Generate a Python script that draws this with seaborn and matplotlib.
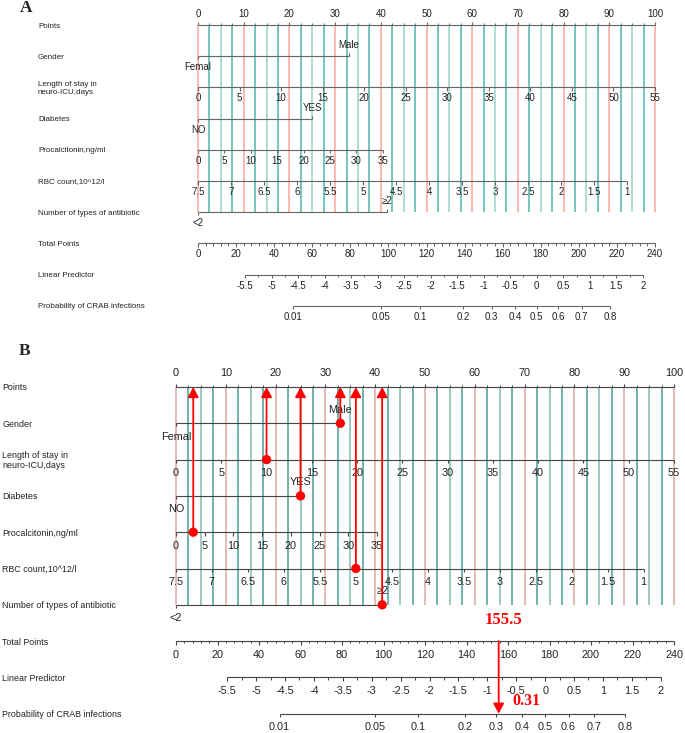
import numpy as np
import matplotlib
matplotlib.use("Agg")
import matplotlib.pyplot as plt
import seaborn as sns

# ---- nomogram scales ----
points_ticks = [0, 10, 20, 30, 40, 50, 60, 70, 80, 90, 100]
points_grid_step = 2.5

gender_levels = ["Femal", "Male"]
gender_points = [0, 33]

los_ticks = [0, 5, 10, 15, 20, 25, 30, 35, 40, 45, 50, 55]
los_range = [0, 55]
los_points = [0, 100]

diabetes_levels = ["NO", "YES"]
diabetes_points = [0, 25]

pct_ticks = [0, 5, 10, 15, 20, 25, 30, 35]
pct_range = [0, 35]
pct_points = [0, 40.4]

rbc_ticks = [7.5, 7, 6.5, 6, 5.5, 5, 4.5, 4, 3.5, 3, 2.5, 2, 1.5, 1]
rbc_range = [7.5, 1]
rbc_points = [0, 93.9]

abx_levels = ["<2", "≥2"]
abx_points = [0, 41.4]

total_ticks = [0, 20, 40, 60, 80, 100, 120, 140, 160, 180, 200, 220, 240]
total_max = 240

lp_ticks = [-5.5, -5, -4.5, -4, -3.5, -3, -2.5, -2, -1.5, -1, -0.5, 0, 0.5, 1, 1.5, 2]
lp_range = [-5.5, 2]
lp_total = [24.7, 233.6]

prob_ticks = [0.01, 0.05, 0.1, 0.2, 0.3, 0.4, 0.5, 0.6, 0.7, 0.8]

row_names = ["Points", "Gender", "Length of stay in\nneuro-ICU,days", "Diabetes",
             "Procalcitonin,ng/ml", "RBC count,10^12/l", "Number of types of antibiotic",
             "Total Points", "Linear Predictor", "Probability of CRAB infections"]

# example patient shown in panel B
patient_gender = "Male"
patient_los = 10
patient_diabetes = "YES"
patient_pct = 3
patient_rbc = 5.0
patient_abx = "≥2"
patient_total = 155.5
patient_prob = 0.31


def lin(v, rng, pts):
    return pts[0] + (np.asarray(v, float) - rng[0]) / (rng[1] - rng[0]) * (pts[1] - pts[0])


def total_to_x(tp):
    return np.asarray(tp, float) * 100.0 / total_max


def lp_to_x(lp):
    return total_to_x(lin(lp, lp_range, lp_total))


def prob_to_x(p):
    p = np.asarray(p, float)
    return lp_to_x(np.log(p / (1 - p)))


def fmt(v):
    return f"{v:g}"


PANELS = {
    "A": dict(px0=198, ppp=4.57, y0=25, dy=31.2, lab_px=38, lab_fs=5.8, tick_fs=7,
              off=11, letter=(26, 8), red="#f6a69c", teal="#4fb5aa", teal2="#93d3cb",
              axc="#666666"),
    "B": dict(px0=176, ppp=4.98, y0=387, dy=36.3, lab_px=2, lab_fs=6.4, tick_fs=7.8,
              off=13.5, letter=(25, 351), red="#dcaaa1", teal="#4c9d94", teal2="#80bab3",
              axc="#444444"),
}


def draw_scale(ax, cfg, y, xs, labels, minor=None, up=False, label_above=False, major_len=3.5):
    ax.hlines(y, min(xs), max(xs), color=cfg["axc"], lw=0.8, zorder=3)
    sgn = -1 if up else 1
    ax.vlines(xs, y, y + sgn * major_len, color=cfg["axc"], lw=0.8, zorder=3)
    if minor is not None:
        ax.vlines(minor, y, y + sgn * 2.2, color=cfg["axc"], lw=0.7, zorder=3)
    ly = y - cfg["off"] if label_above else y + cfg["off"]
    for x, t in zip(xs, labels):
        ax.text(x, ly, t, ha="center", va="center", fontsize=cfg["tick_fs"], color="#222222", zorder=4)


def draw_cat(ax, cfg, y, levels, pts):
    ax.hlines(y, pts[0], pts[1], color=cfg["axc"], lw=0.8, zorder=3)
    ax.vlines(pts[0], y, y + 3, color=cfg["axc"], lw=0.8, zorder=3)
    ax.vlines(pts[1], y, y - 3, color=cfg["axc"], lw=0.8, zorder=3)
    ax.text(pts[0], y + cfg["off"], levels[0], ha="center", va="center",
            fontsize=cfg["tick_fs"], color="#222222", zorder=4)
    ax.text(pts[1], y - cfg["off"], levels[1], ha="center", va="center",
            fontsize=cfg["tick_fs"], color="#222222", zorder=4)


def draw_panel(ax, name):
    cfg = PANELS[name]
    ax.set_xlim(-cfg["px0"] / cfg["ppp"], (685 - cfg["px0"]) / cfg["ppp"])
    ax.set_ylim(733, 0)
    ax.axis("off")
    rows = [cfg["y0"] + i * cfg["dy"] for i in range(10)]

    # vertical reference grid
    grid = np.arange(0, 100.01, points_grid_step)
    for g in grid:
        if g % 10 == 0:
            c = cfg["red"]
        elif g % 5 == 0:
            c = cfg["teal2"]
        else:
            c = cfg["teal"]
        ax.vlines(g, rows[0], rows[6], color=c, lw=1.1, zorder=1)

    lab_x = (cfg["lab_px"] - cfg["px0"]) / cfg["ppp"]
    for y, t in zip(rows, row_names):
        ax.text(lab_x, y + 1, t, ha="left", va="center", fontsize=cfg["lab_fs"],
                color="#222222", linespacing=1.05)
    lx, ly = cfg["letter"]
    ax.text((lx - cfg["px0"]) / cfg["ppp"], ly, name, ha="center", va="center",
            fontsize=12.5, fontweight="bold", family="Liberation Serif")

    draw_scale(ax, cfg, rows[0], points_ticks, [fmt(v) for v in points_ticks],
               minor=grid, up=True, label_above=True)
    draw_cat(ax, cfg, rows[1], gender_levels, gender_points)
    draw_scale(ax, cfg, rows[2], lin(los_ticks, los_range, los_points), [fmt(v) for v in los_ticks])
    draw_cat(ax, cfg, rows[3], diabetes_levels, diabetes_points)
    draw_scale(ax, cfg, rows[4], lin(pct_ticks, pct_range, pct_points), [fmt(v) for v in pct_ticks])
    draw_scale(ax, cfg, rows[5], lin(rbc_ticks, rbc_range, rbc_points), [fmt(v) for v in rbc_ticks])
    draw_cat(ax, cfg, rows[6], abx_levels, abx_points)
    draw_scale(ax, cfg, rows[7], total_to_x(total_ticks), [fmt(v) for v in total_ticks],
               minor=total_to_x(np.arange(0, total_max + 1, 4)))
    draw_scale(ax, cfg, rows[8], lp_to_x(lp_ticks), [fmt(v) for v in lp_ticks],
               minor=lp_to_x(np.arange(lp_range[0], lp_range[1] + 0.01, 0.25)))
    draw_scale(ax, cfg, rows[9], prob_to_x(prob_ticks), [fmt(v) for v in prob_ticks])
    return rows


sns.set_theme(style="white")
plt.rcParams["font.family"] = ["Liberation Sans", "DejaVu Sans"]

fig = plt.figure(figsize=(6.85, 7.33), dpi=100)
axA = fig.add_axes([0, 0, 1, 1])
axB = fig.add_axes([0, 0, 1, 1])
axB.patch.set_alpha(0)

draw_panel(axA, "A")
rowsB = draw_panel(axB, "B")

# patient marks on panel B
sel_x = [gender_points[gender_levels.index(patient_gender)],
         float(lin(patient_los, los_range, los_points)),
         diabetes_points[diabetes_levels.index(patient_diabetes)],
         float(lin(patient_pct, pct_range, pct_points)),
         float(lin(patient_rbc, rbc_range, rbc_points)),
         abx_points[abx_levels.index(patient_abx)]]
sel_y = rowsB[1:7]
for x, y in zip(sel_x, sel_y):
    axB.annotate("", xy=(x, rowsB[0]), xytext=(x, y),
                 arrowprops=dict(arrowstyle="-|>,head_length=0.6,head_width=0.32", color="red",
                                 lw=1.3, shrinkA=0, shrinkB=0, mutation_scale=10), zorder=5)
sns.scatterplot(x=sel_x, y=sel_y, ax=axB, color="red", s=45, edgecolor="none", zorder=6, legend=False)

tx = float(total_to_x(patient_total))
axB.annotate("", xy=(tx, rowsB[9]), xytext=(tx, rowsB[7]),
             arrowprops=dict(arrowstyle="-|>,head_length=0.6,head_width=0.32", color="red",
                             lw=1.3, shrinkA=0, shrinkB=0, mutation_scale=10), zorder=5)
axB.text(tx + 0.9, rowsB[7] - 21, fmt(patient_total), ha="center", va="center", color="red",
         fontsize=12, fontweight="bold", family="Liberation Serif")
axB.text(tx + 2.7, rowsB[9] - 13, fmt(patient_prob), ha="left", va="center", color="red",
         fontsize=11.5, fontweight="bold", family="Liberation Serif")

fig.savefig("out.png", dpi=100)
